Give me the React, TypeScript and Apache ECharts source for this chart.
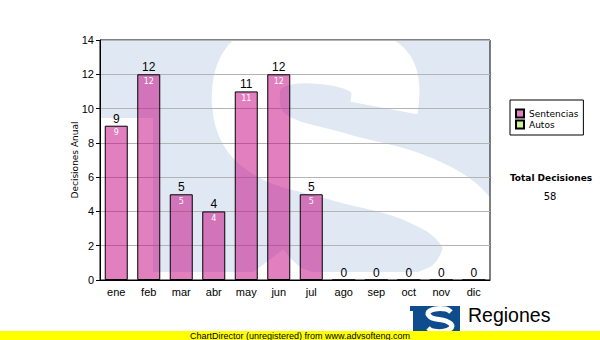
import React, { useEffect, useRef } from "react";
import * as echarts from "echarts";

// ---- data ----
const months = ["ene", "feb", "mar", "abr", "may", "jun", "jul", "ago", "sep", "oct", "nov", "dic"];
const sentencias = [9, 12, 5, 4, 11, 12, 5, 0, 0, 0, 0, 0];
const autos: number[] = [];
const yMin = 0;
const yMax = 14;
const yStep = 2;
const seriesNames = ["Sentencias", "Autos"];
const yAxisTitle = "Decisiones Anual";
const totalTitle = "Total Decisiones";
const totalValue = "58";
const brandText = "Regiones";
const footerText = "ChartDirector (unregistered) from www.advsofteng.com";

// ---- layout ----
const W = 600;
const H = 340;
const PL = 100, PT = 40, PR = 490, PB = 280;
const ARIAL = "Liberation Sans, Arial, sans-serif";
const VERD = "DejaVu Sans, Verdana, sans-serif";
const PINK = "rgba(196,0,128,0.5)";
const GREEN = "#d5f09d";
const WM_BLUE = "#e0e9f3";

export default function App() {
  const ref = useRef<HTMLDivElement>(null);
  useEffect(() => {
    if (!ref.current) return;
    const chart = echarts.init(ref.current, undefined, { renderer: "svg" });
    const option: any = {
      animation: false,
      backgroundColor: "#ffffff",
      grid: {
        left: PL,
        top: PT,
        right: W - PR,
        bottom: H - PB,
        show: true,
        borderColor: "#000",
        borderWidth: 1,
        backgroundColor: "transparent",
      },
      legend: {
        data: seriesNames,
        orient: "vertical",
        left: 510,
        top: 100,
        itemWidth: 8,
        itemHeight: 8,
        itemGap: 0,
        icon: "rect",
        padding: [8, 5, 5, 5],
        borderColor: "#000",
        borderWidth: 1,
        textStyle: { fontFamily: VERD, fontSize: 9, color: "#000", lineHeight: 11 },
      },
      xAxis: {
        type: "category",
        data: months,
        axisLine: { lineStyle: { color: "#000", width: 1 } },
        axisTick: { alignWithLabel: true, length: 4, lineStyle: { color: "#000" } },
        axisLabel: { color: "#000", fontSize: 11, fontFamily: ARIAL, margin: 6 },
      },
      yAxis: {
        type: "value",
        min: yMin,
        max: yMax,
        interval: yStep,
        name: yAxisTitle,
        nameLocation: "middle",
        nameGap: 21,
        nameRotate: 90,
        nameMoveOverlap: false,
        nameTextStyle: { fontFamily: VERD, fontSize: 9, color: "#000" },
        axisLine: { show: true, lineStyle: { color: "#000" } },
        axisTick: { show: true, length: 4, lineStyle: { color: "#000" } },
        axisLabel: { color: "#000", fontSize: 11, fontFamily: ARIAL, margin: 6 },
        splitLine: { show: true, lineStyle: { color: "#b4b4b4", width: 1 } },
      },
      series: [
        {
          name: seriesNames[0],
          type: "bar",
          data: sentencias,
          barWidth: 23,
          barGap: "-100%",
          itemStyle: { color: PINK, borderColor: "#000", borderWidth: 1 },
          label: {
            show: true,
            position: "insideTop",
            distance: 3,
            color: "#fff",
            fontSize: 8,
            fontFamily: VERD,
            formatter: (p: any) => (p.value > 0 ? String(p.value) : ""),
          },
        },
        {
          name: seriesNames[1],
          type: "bar",
          data: autos,
          barWidth: 23,
          barGap: "-100%",
          itemStyle: { color: GREEN, borderColor: "#000", borderWidth: 1 },
        },
        {
          name: "valores",
          type: "bar",
          data: sentencias,
          barWidth: 23,
          barGap: "-100%",
          silent: true,
          itemStyle: { color: "rgba(0,0,0,0)", borderWidth: 0 },
          label: {
            show: true,
            position: "top",
            distance: 1,
            color: "#000",
            fontSize: 12,
            fontFamily: ARIAL,
          },
        },
      ],
      graphic: [
        // watermark: light blue T-shaped block
        { type: "rect", z: -20, shape: { x: PL, y: PT, width: PR - PL, height: 118 - PT }, style: { fill: WM_BLUE } },
        { type: "rect", z: -20, shape: { x: 153, y: 118, width: PR - 153, height: 272 - 118 }, style: { fill: WM_BLUE } },
        // watermark: white S
        {
          type: "polyline",
          z: -10,
          shape: {
            points: [
              [384, 108], [380, 72], [322, 50], [260, 62], [246, 104], [266, 142],
              [336, 166], [420, 190], [468, 224], [474, 262], [440, 300], [360, 312],
              [290, 300], [256, 270],
            ],
            smooth: 0.4,
          },
          style: { stroke: "#ffffff", lineWidth: 68, fill: null, lineCap: "butt", lineJoin: "round" },
        },
        // total box
        {
          type: "text",
          z: 5,
          x: 551,
          y: 178,
          style: { text: totalTitle, fontFamily: VERD, fontSize: 9, fontWeight: "bold", fill: "#000", align: "center", verticalAlign: "middle" },
        },
        {
          type: "text",
          z: 5,
          x: 550,
          y: 196,
          style: { text: totalValue, fontFamily: VERD, fontSize: 10, fill: "#000", align: "center", verticalAlign: "middle" },
        },
        // logo
        { type: "rect", z: 5, shape: { x: 410, y: 306, width: 50, height: 28 }, style: { fill: "#0f4c8e" } },
        { type: "rect", z: 6, shape: { x: 410, y: 311, width: 3, height: 24 }, style: { fill: "#ffffff" } },
        {
          type: "polyline",
          z: 6,
          shape: {
            points: [[451, 312], [446, 309], [435, 309], [428, 313], [432, 318], [446, 321], [452, 326], [445, 331], [433, 331], [428, 328]],
            smooth: 0.4,
          },
          style: { stroke: "#ffffff", lineWidth: 5, fill: null },
        },
        {
          type: "text",
          z: 5,
          x: 468,
          y: 315,
          style: { text: brandText, fontFamily: ARIAL, fontSize: 19.5, fill: "#000", align: "left", verticalAlign: "middle" },
        },
        // footer band
        { type: "rect", z: 10, shape: { x: 0, y: 331, width: W, height: 9 }, style: { fill: "#ffff00" } },
        {
          type: "text",
          z: 11,
          x: 300,
          y: 335.5,
          style: { text: footerText, fontFamily: ARIAL, fontSize: 9, fill: "#000", align: "center", verticalAlign: "middle" },
        },
      ],
    };
    chart.setOption(option);
    return () => chart.dispose();
  }, []);
  return (
    <div
      ref={ref}
      style={{ position: "fixed", left: 0, top: 0, width: W, height: H, background: "#fff" }}
    />
  );
}
